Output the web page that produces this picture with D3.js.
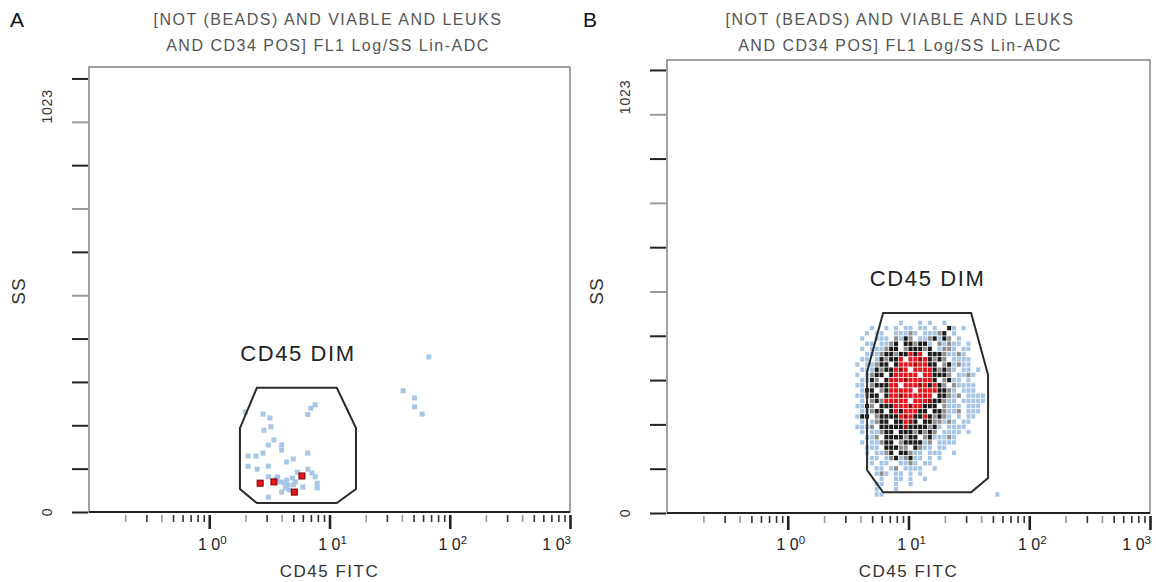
<!DOCTYPE html>
<html>
<head>
<meta charset="utf-8">
<script src="https://cdn.jsdelivr.net/npm/d3@7"></script>
<style>
  body { margin: 0; background: #fff; }
  svg { display: block; }
  text { font-family: "Liberation Sans", Arial, sans-serif; }
</style>
</head>
<body>
<svg id="chart" width="1156" height="582"></svg>
<script>
// ---- text ----
const panelLetters = ["A", "B"];
const titleLines = ["[NOT (BEADS) AND VIABLE AND LEUKS", "AND CD34 POS] FL1 Log/SS Lin-ADC"];
const xAxisTitle = "CD45 FITC";
const yAxisTitle = "SS";
const gateName = "CD45 DIM";

// ---- axes ----
const fitcDomain = [0.1, 1000];
const fitcDecades = [0, 1, 2, 3];          // labelled powers of ten
const fitcMinorMultipliers = [2, 3, 4, 5, 6, 7, 8, 9];
const ssTicks = [0, 102.3, 204.6, 306.9, 409.2, 511.5, 613.8, 716.1, 818.4, 920.7, 1023];
const ssLightTicks = [511.5, 716.1, 920.7];
const ssTickLabels = [0, 1023];

// ---- gates (CD45 FITC, SS) ----
const gateA = [[2.49, 293], [11.5, 293], [16.6, 198], [16.6, 54], [11.5, 21], [2.49, 21], [1.80, 54], [1.80, 198]];
const gateB = [[6.16, 462], [33.0, 462], [45.6, 319], [45.6, 81], [33.0, 48], [6.16, 48], [4.54, 99], [4.54, 326]];

// ---- panel A events (CD45 FITC, SS) ----
const eventsABlue = [
  [7.6, 253], [7.0, 245], [6.6, 230], [2.0, 236], [2.8, 231], [3.2, 222],
  [3.26, 201], [2.85, 193], [3.45, 170], [3.1, 158], [4.0, 158], [4.0, 146],
  [2.1, 132], [2.45, 132], [2.8, 139], [6.6, 139], [5.0, 125], [4.4, 118],
  [2.1, 108], [2.5, 101], [3.1, 108], [6.6, 101], [7.15, 92], [7.6, 83],
  [7.9, 68], [7.9, 57], [3.7, 83], [4.4, 75], [4.9, 80], [5.4, 94],
  [4.5, 64], [4.3, 57], [5.0, 64], [6.0, 59], [3.1, 83], [3.1, 35],
  [4.0, 47], [3.9, 71], [5.2, 71], [4.6, 52], [3.6, 78], [4.2, 69],
  [67, 366], [41, 286], [51, 269], [51, 248], [59, 231]
];
const eventsARed = [[2.65, 68], [3.45, 71], [5.1, 47], [5.9, 85]];

// ---- panel B density histogram ----
// rows run from high SS to low SS; columns step along log10(CD45 FITC)
// . empty  b low  g medium  k high  r highest  d highest (dense core)
const densityB = {
  ssTop: 456, ssStep: 12, logStart: 0.56, logStep: 0.04,
  rows: [
    "............................",
    ".........b...b.b..b.........",
    "...b..b.b.bb.bb.b..kb.b.....",
    "..b.bb..bbbgb.bbbgk.b.......",
    ".b..bbb.gbkg.bbgkbkg.b......",
    "..bb.bbgk.kkgkkb.gbgbb.b....",
    ".b.bbbgkk.gkkkgk.bggb.bb....",
    "..bbbgkkgkkrkr.kkkgbbgb.....",
    ".bb.bkgkkr.rrdrkgkg.bbbb....",
    "b.bbgkk.krrrdrrkk.gkbgbb....",
    ".bbbkgkkrdr.rrrrkgkgb.bb.b..",
    "b.bgkk.krrrrr.rrkkkg.bbgb...",
    ".bbkg.krrrdrrrrrk.gkbb.b....",
    "bb.gkkkrr.rrrdrkrkg.gbbbb...",
    ".bkk.gkrrrrr.rrrrkkgb.bbb...",
    "bbgkk.krrdrrrrrr.kkgbg.bbbb.",
    ".b.gkgrrrrr.rrrdkkgbb.bbbbb.",
    "bbkg.kkkrrrdrrkkk.gbbb.bbb..",
    ".bbgkk.krkrrrkk.kkgbbg.bbb..",
    "bkk.gkkkkrdrkkrkgkgb.b.bb...",
    ".b.bgkk.kkrdk.kkggbgb.bb....",
    "bbbg.kkkkkdkkkkgkb.bbbb.....",
    ".b.bbgkk.kkkgkgkg.bbbb.b....",
    "..bbg.kkkkgkk.gkbbbgb.......",
    ".b.bbgkk.gkkkkbg.bbbb.......",
    "..bbb.kkkgg.kgbb.bb.........",
    "..b.bbgk.kkgbb.bbb..b.......",
    "...bb.bgkbgkbb.b.b..........",
    "...b.bb..bbgb.bb............",
    "....bb.bg.bbbb..b...........",
    "....bgb.bb.b.b..............",
    ".....b..bb.b..b.............",
    "....bb..b..b................",
    "....b...b...................",
    "....bb.......................b"
  ]
};

// ---- layout & style ----
const panels = [
  { letter: panelLetters[0], letterX: 10, titleX: 328, left: 89, right: 570, top: 67, bottom: 512, ssMax: 1050, gate: gateA, ssLabelShift: 28 },
  { letter: panelLetters[1], letterX: 583, titleX: 900, left: 667, right: 1150, top: 60, bottom: 513, ssMax: 1046, gate: gateB, ssLabelShift: 27 }
];
const colors = { b: "#a7c6e6", g: "#8e8e8e", k: "#1c1c1c", r: "#e8131b", d: "#9a0c0c" };

const svg = d3.select("#chart");

panels.forEach((p, pi) => {
  const x = d3.scaleLog().domain(fitcDomain).range([p.left, p.right]);
  const y = d3.scaleLinear().domain([0, p.ssMax]).range([p.bottom, p.top]);
  const g = svg.append("g");
  const cx = (p.left + p.right) / 2;

  // panel letter
  g.append("text").attr("x", p.letterX).attr("y", 27)
    .attr("font-size", 21).attr("fill", "#111").text(p.letter);

  // title
  titleLines.forEach((t, i) => {
    g.append("text").attr("x", p.titleX).attr("y", 25 + i * 26)
      .attr("text-anchor", "middle").attr("font-size", 16)
      .attr("letter-spacing", 1.5).attr("fill", "#555").text(t);
  });

  // frame
  g.append("rect").attr("x", p.left).attr("y", p.top)
    .attr("width", p.right - p.left).attr("height", p.bottom - p.top)
    .attr("fill", "none").attr("stroke", "#8a8a8a").attr("stroke-width", 1.6);
  g.append("line").attr("x1", p.left).attr("x2", p.right)
    .attr("y1", p.bottom).attr("y2", p.bottom)
    .attr("stroke", "#222").attr("stroke-width", 2);

  // SS axis ticks
  const yAxis = g.append("g").attr("transform", `translate(${p.left - 1},0)`)
    .call(d3.axisLeft(y).tickValues(ssTicks).tickSize(16).tickFormat(""));
  yAxis.select(".domain").remove();
  yAxis.selectAll(".tick line")
    .attr("stroke", d => ssLightTicks.includes(d) ? "#9a9a9a" : "#222")
    .attr("stroke-width", 2);

  ssTickLabels.forEach(v => {
    const ty = v === 0 ? y(v) : y(v) + p.ssLabelShift;
    g.append("text").attr("transform", `translate(${p.left - 37},${ty}) rotate(-90)`)
      .attr("text-anchor", "middle").attr("font-size", 14).attr("letter-spacing", 0.8)
      .attr("fill", "#333").text(String(v));
  });

  g.append("text").attr("transform", `translate(${p.left - 64},291) rotate(-90)`)
    .attr("text-anchor", "middle").attr("font-size", 19).attr("letter-spacing", 1)
    .attr("fill", "#333").text(yAxisTitle);

  // CD45 FITC axis: minor ticks
  const minor = [];
  [-1, 0, 1, 2].forEach(d => fitcMinorMultipliers.forEach(m => minor.push(m * Math.pow(10, d))));
  const xMinor = g.append("g").attr("transform", `translate(0,${p.bottom + 3})`)
    .call(d3.axisBottom(x).tickValues(minor).tickSize(7).tickFormat(""));
  xMinor.select(".domain").remove();
  xMinor.selectAll(".tick line")
    .attr("stroke", (d, i) => (i % 8 === 0 || i % 8 === 2) ? "#9a9a9a" : "#333")
    .attr("stroke-width", 1.6);

  // major ticks
  const majors = fitcDecades.map(e => Math.pow(10, e));
  const xMajor = g.append("g").attr("transform", `translate(0,${p.bottom + 3})`)
    .call(d3.axisBottom(x).tickValues(majors).tickSize(14).tickFormat(""));
  xMajor.select(".domain").remove();
  xMajor.selectAll(".tick line").attr("stroke", "#222").attr("stroke-width", 2.6);

  fitcDecades.forEach((e, i) => {
    const tx = x(Math.pow(10, e));
    const last = i === fitcDecades.length - 1;
    const t = g.append("text").attr("x", last ? p.right + 1 : tx + 3).attr("y", 550)
      .attr("text-anchor", last ? "end" : "middle").attr("font-size", 16).attr("fill", "#222");
    t.append("tspan").text("1 0");
    t.append("tspan").attr("dy", -6).attr("font-size", 11.5).text(String(e));
  });

  g.append("text").attr("x", cx).attr("y", 577).attr("text-anchor", "middle")
    .attr("font-size", 17).attr("letter-spacing", 1.5).attr("fill", "#333").text(xAxisTitle);

  // events / density
  if (pi === 0) {
    g.selectAll("rect.blue").data(eventsABlue).join("rect")
      .attr("x", d => x(d[0]) - 2.5).attr("y", d => y(d[1]) - 2.5)
      .attr("width", 5).attr("height", 5).attr("fill", colors.b);
    g.selectAll("rect.red").data(eventsARed).join("rect")
      .attr("x", d => x(d[0]) - 3).attr("y", d => y(d[1]) - 3)
      .attr("width", 6).attr("height", 6).attr("fill", colors.r)
      .attr("stroke", "#7a0000").attr("stroke-width", 1);
  } else {
    const cells = [];
    densityB.rows.forEach((row, r) => {
      row.split("").forEach((ch, c) => {
        if (ch !== ".") {
          cells.push({
            ssHi: densityB.ssTop - r * densityB.ssStep,
            ssLo: densityB.ssTop - (r + 1) * densityB.ssStep,
            fLo: Math.pow(10, densityB.logStart + c * densityB.logStep),
            fHi: Math.pow(10, densityB.logStart + (c + 1) * densityB.logStep),
            level: ch
          });
        }
      });
    });
    g.selectAll("rect.cell").data(cells).join("rect")
      .attr("x", d => x(d.fLo)).attr("y", d => y(d.ssHi))
      .attr("width", d => Math.max(1, x(d.fHi) - x(d.fLo) - 0.8))
      .attr("height", d => Math.max(1, y(d.ssLo) - y(d.ssHi) - 0.8))
      .attr("fill", d => colors[d.level]);
  }

  // gate
  g.append("path")
    .attr("d", d3.line().x(d => x(d[0])).y(d => y(d[1])).curve(d3.curveLinearClosed)(p.gate))
    .attr("fill", "none").attr("stroke", "#2a2a2a").attr("stroke-width", 2);

  const top = d3.max(p.gate, d => d[1]);
  const gx = (x(d3.min(p.gate, d => d[0])) + x(d3.max(p.gate, d => d[0]))) / 2;
  g.append("text").attr("x", gx).attr("y", y(top) - 27).attr("text-anchor", "middle")
    .attr("font-size", 22).attr("letter-spacing", 1.6).attr("fill", "#222").text(gateName);
});
</script>
</body>
</html>
